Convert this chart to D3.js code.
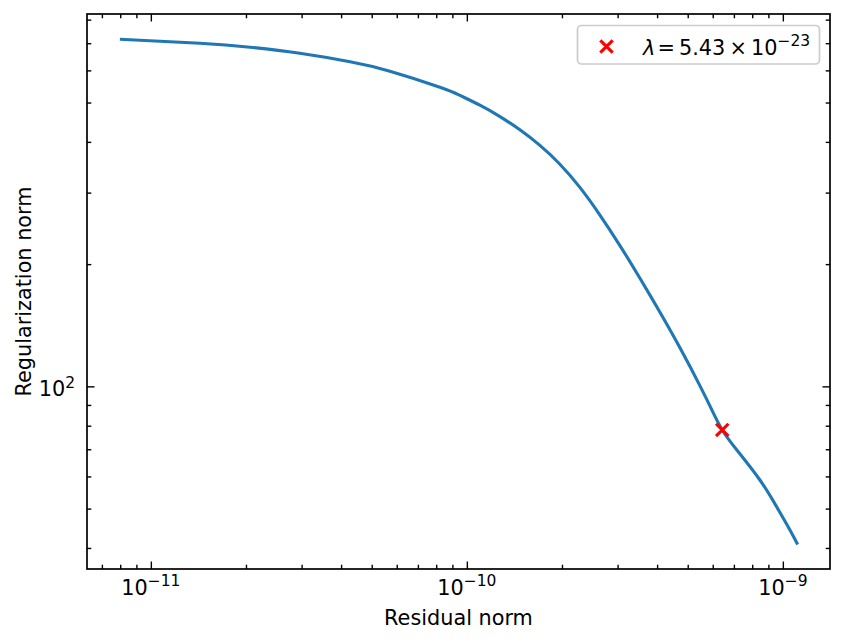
<!DOCTYPE html>
<html lang="en">
<head>
  <meta charset="UTF-8">
  <title>L-curve</title>
  <style>
    body { margin: 0; background: #fff; }
    text { font-family: "DejaVu Sans", sans-serif; fill: #000; }
  </style>
</head>
<body>
  <script src="https://d3js.org/d3.v7.min.js"></script>
  <script>
    // residual norm vs regularization norm
    const residual = [7.98e-12, 1.43e-11, 2.06e-11, 2.96e-11, 4.27e-11, 5.71e-11, 8.22e-11, 9.51e-11,
      1.10e-10, 1.273e-10, 1.472e-10, 1.703e-10, 1.97e-10, 2.279e-10, 2.637e-10, 3.051e-10, 3.53e-10,
      4.084e-10, 4.725e-10, 5.467e-10, 5.965e-10, 6.43e-10, 7.153e-10, 8.46e-10, 9.56e-10, 1.053e-9, 1.114e-9]
    const regNorm = [715.6, 699.5, 684, 661, 630, 597.2, 545.3, 520.6,
      492.5, 461.6, 428.3, 392, 352.4, 309, 264.2, 222.2, 184.6,
      152.2, 124.4, 100.3, 87.4, 78.1, 69.7, 58.8, 50.5, 44.3, 40.8]

    const corner = [6.43e-10, 78.1]
    const lambdaText = ['5.43', '−23']

    const xMajor = [1e-11, 1e-10, 1e-9]
    const xMajorExp = ['−11', '−10', '−9']
    const yMajor = [100]
    const yMajorExp = ['2']

    const xDomain = [6.28e-12, 1.41e-9]
    const yDomain = [35.5, 826]

    const width = 846
    const height = 643
    const margin = { left: 87, right: 16, top: 14, bottom: 74 }

    const x = d3.scaleLog().domain(xDomain).range([margin.left, width - margin.right])
    const y = d3.scaleLog().domain(yDomain).range([height - margin.bottom, margin.top])

    // minor ticks 2..9 in each decade
    const minors = (dom) => {
      const out = []
      const lo = Math.floor(Math.log10(dom[0]))
      const hi = Math.ceil(Math.log10(dom[1]))
      for (let e = lo; e <= hi; e++) {
        for (let k = 2; k <= 9; k++) {
          const v = k * Math.pow(10, e)
          if (v >= dom[0] && v <= dom[1]) out.push(v)
        }
      }
      return out
    }

    const svg = d3.select('body')
      .append('svg')
      .attr('width', width)
      .attr('height', height)

    const x0 = margin.left, x1 = width - margin.right
    const y0 = height - margin.bottom, y1 = margin.top
    const majorLen = 7.5
    const minorLen = 4.3
    const supSize = '15.5px'

    const axisStyle = g => {
      g.select('.domain').remove()
      g.selectAll('line').attr('stroke', '#000').attr('stroke-width', 1.4)
    }

    // inward ticks on all four sides
    svg.append('g').attr('transform', `translate(0,${y0})`)
      .call(d3.axisBottom(x).tickValues(xMajor).tickSize(-majorLen).tickFormat(''))
      .call(axisStyle)
    svg.append('g').attr('transform', `translate(0,${y0})`)
      .call(d3.axisBottom(x).tickValues(minors(xDomain)).tickSize(-minorLen).tickFormat(''))
      .call(axisStyle)
    svg.append('g').attr('transform', `translate(0,${y1})`)
      .call(d3.axisTop(x).tickValues(xMajor).tickSize(-majorLen).tickFormat(''))
      .call(axisStyle)
    svg.append('g').attr('transform', `translate(0,${y1})`)
      .call(d3.axisTop(x).tickValues(minors(xDomain)).tickSize(-minorLen).tickFormat(''))
      .call(axisStyle)
    svg.append('g').attr('transform', `translate(${x0},0)`)
      .call(d3.axisLeft(y).tickValues(yMajor).tickSize(-majorLen).tickFormat(''))
      .call(axisStyle)
    svg.append('g').attr('transform', `translate(${x0},0)`)
      .call(d3.axisLeft(y).tickValues(minors(yDomain)).tickSize(-minorLen).tickFormat(''))
      .call(axisStyle)
    svg.append('g').attr('transform', `translate(${x1},0)`)
      .call(d3.axisRight(y).tickValues(yMajor).tickSize(-majorLen).tickFormat(''))
      .call(axisStyle)
    svg.append('g').attr('transform', `translate(${x1},0)`)
      .call(d3.axisRight(y).tickValues(minors(yDomain)).tickSize(-minorLen).tickFormat(''))
      .call(axisStyle)

    // tick labels 10^n
    const xl = svg.append('g').selectAll('text')
      .data(xMajor)
      .enter()
      .append('text')
      .attr('x', d => x(d))
      .attr('y', y0 + 26)
      .attr('text-anchor', 'middle')
      .style('font-size', '20.8px')
    xl.append('tspan').text('10')
    xl.append('tspan').attr('dy', -9).style('font-size', supSize).text((d, i) => xMajorExp[i])

    const yl = svg.append('g').selectAll('text')
      .data(yMajor)
      .enter()
      .append('text')
      .attr('x', x0 - 12)
      .attr('y', d => y(d) + 10)
      .attr('text-anchor', 'end')
      .style('font-size', '20.8px')
    yl.append('tspan').text('10')
    yl.append('tspan').attr('dy', -8).style('font-size', supSize).text((d, i) => yMajorExp[i])

    // axis titles
    svg.append('text')
      .attr('x', (x0 + x1) / 2)
      .attr('y', 625)
      .attr('text-anchor', 'middle')
      .style('font-size', '20.8px')
      .text('Residual norm')
    svg.append('text')
      .attr('transform', `translate(31,${(y0 + y1) / 2}) rotate(-90)`)
      .attr('text-anchor', 'middle')
      .style('font-size', '20.8px')
      .text('Regularization norm')

    // curve
    const line = d3.line()
      .x(d => x(d[0]))
      .y(d => y(d[1]))
      .curve(d3.curveNatural)

    svg.append('path')
      .datum(residual.map((r, i) => [r, regNorm[i]]))
      .attr('d', line)
      .attr('fill', 'none')
      .attr('stroke', '#1f77b4')
      .attr('stroke-width', 3.1)

    const cross = (g, cx, cy, s) => {
      g.append('path')
        .attr('d', `M${cx - s},${cy - s}L${cx + s},${cy + s}M${cx - s},${cy + s}L${cx + s},${cy - s}`)
        .attr('stroke', '#ff0000')
        .attr('stroke-width', 3.1)
        .attr('fill', 'none')
    }
    cross(svg, x(corner[0]), y(corner[1]), 6.2)

    // frame
    svg.append('rect')
      .attr('x', x0)
      .attr('y', y1)
      .attr('width', x1 - x0)
      .attr('height', y0 - y1)
      .attr('fill', 'none')
      .attr('stroke', '#000')
      .attr('stroke-width', 1.7)

    // legend
    const lg = svg.append('g')
    lg.append('rect')
      .attr('x', 577.5)
      .attr('y', 25.5)
      .attr('width', 242)
      .attr('height', 38.5)
      .attr('rx', 4)
      .attr('fill', '#fff')
      .attr('fill-opacity', 0.8)
      .attr('stroke', '#cccccc')
      .attr('stroke-width', 1.7)
    cross(lg, 606.5, 46.5, 6.2)
    const lt = lg.append('text')
      .attr('x', 643)
      .attr('y', 55)
      .attr('xml:space', 'preserve')
      .style('font-size', '20.8px')
    lt.append('tspan').style('font-style', 'italic').text('λ')
    lt.append('tspan').text(`\u200a=\u2009${lambdaText[0]}\u2009×\u200910`)
    lt.append('tspan').attr('dy', -9).style('font-size', supSize).text(lambdaText[1])
  </script>
</body>
</html>
